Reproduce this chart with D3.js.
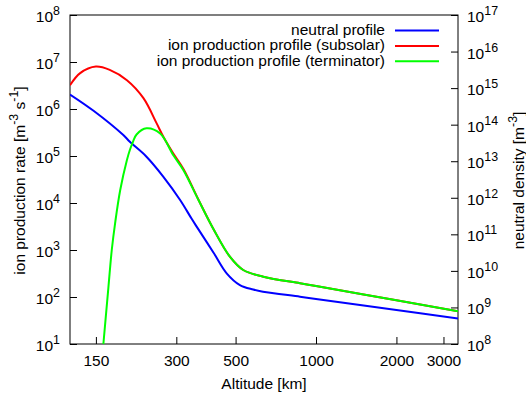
<!DOCTYPE html>
<html>
<head>
<meta charset="utf-8">
<script src="https://cdn.jsdelivr.net/npm/d3@7"></script>
<style>
  html, body { margin: 0; padding: 0; background: #fff; }
  svg { display: block; font-family: "Liberation Sans", Arial, Helvetica, sans-serif; }
</style>
</head>
<body>
<svg id="chart" width="526" height="393"></svg>
<script>
// Neutral density profile [m^-3] vs altitude [km] (right axis)
const neutralAlt = [120, 147, 190, 201, 232, 268, 310, 342, 358, 413, 463, 519, 582, 633, 871, 1000, 2000, 3400];
const neutralDensity = [6.7e14, 2.4e14, 5.2e13, 3.4e13, 1.33e13, 3.8e12, 8.7e11, 2.7e11, 1.6e11, 3.2e10, 8.6e9, 4.1e9, 3.1e9, 2.7e9, 1.97e9, 1.71e9, 8.5e8, 5.0e8];

// Ion production rate [m^-3 s^-1], subsolar (left axis)
const subsolarAlt = [120, 131, 150, 169, 196, 226, 253, 268, 292, 319, 362, 413, 476, 534, 635, 871, 1000, 2000, 3400];
const subsolarRate = [3.2e6, 5.8e6, 8.0e6, 6.8e6, 4.1e6, 1.7e6, 5.0e5, 2.6e5, 1.14e5, 5.3e4, 1.22e4, 2.8e3, 720, 375, 270, 196, 171, 85, 50];

// Ion production rate [m^-3 s^-1], terminator (left axis)
const terminatorAlt = [157, 160, 167, 172, 177, 185, 196, 201, 207, 213, 232, 261, 292, 319, 362, 413, 476, 534, 635, 871, 1000, 2000, 3400];
const terminatorRate = [3, 10, 155, 1000, 3.7e3, 1.89e4, 8.2e4, 1.34e5, 2.08e5, 2.87e5, 3.88e5, 3.0e5, 1.05e5, 5.0e4, 1.2e4, 2.8e3, 720, 375, 270, 196, 171, 85, 50];

// Axis ranges and ticks
const altitudeRange = [120, 3400];
const rateRange = [1e1, 1e8];
const densityRange = [1e8, 1e17];
const altitudeTicks = [150, 300, 500, 1000, 2000, 3000];
const rateTickExponents = [1, 2, 3, 4, 5, 6, 7, 8];
const densityTickExponents = [8, 9, 10, 11, 12, 13, 14, 15, 16, 17];

const seriesLabels = ["neutral profile", "ion production profile (subsolar)", "ion production profile (terminator)"];
const seriesColors = ["#0000ff", "#ff0000", "#00ff00"];

const svg = d3.select("#chart");
const plot = { left: 70, top: 15, right: 458, bottom: 344 };
const FONT = 15.5, SUP = 12.4, RAISE = 7;

const x = d3.scaleLog().domain(altitudeRange).range([plot.left, plot.right]);
const yRate = d3.scaleLog().domain(rateRange).range([plot.bottom, plot.top]);
const yDens = d3.scaleLog().domain(densityRange).range([plot.bottom, plot.top]);

// write "10" with a raised exponent into a text element
function powerLabel(textSel, exp) {
  textSel.text(null);
  textSel.append("tspan").text("10");
  textSel.append("tspan").attr("dy", -RAISE).attr("font-size", SUP).text(exp);
}

// shared axis styling: inherit the page font, black ticks, no domain path
function styleAxis(g) {
  g.attr("font-family", null).attr("font-size", FONT);
  g.select(".domain").remove();
  g.selectAll(".tick line").attr("stroke", "#000");
  g.selectAll(".tick text").attr("dy", null).attr("fill", "#000");
}

// frame
svg.append("rect")
  .attr("x", plot.left).attr("y", plot.top)
  .attr("width", plot.right - plot.left).attr("height", plot.bottom - plot.top)
  .attr("fill", "none").attr("stroke", "#000").attr("stroke-width", 1);

// bottom axis
const gx = svg.append("g")
  .attr("transform", `translate(0,${plot.bottom})`)
  .call(d3.axisBottom(x).tickValues(altitudeTicks).tickFormat(d3.format("d"))
    .tickSizeInner(-7).tickSizeOuter(0))
  .call(styleAxis);
gx.selectAll(".tick text").attr("y", 22);

// left axis (ion production rate)
svg.append("g")
  .attr("transform", `translate(${plot.left},0)`)
  .call(d3.axisLeft(yRate).tickValues(rateTickExponents.map(e => Math.pow(10, e)))
    .tickSizeInner(-7).tickSizeOuter(0))
  .call(styleAxis)
  .selectAll(".tick text")
  .attr("x", -10).attr("y", 6.5)
  .each(function(d, i) { powerLabel(d3.select(this), rateTickExponents[i]); });

// right axis (neutral density)
svg.append("g")
  .attr("transform", `translate(${plot.right},0)`)
  .call(d3.axisRight(yDens).tickValues(densityTickExponents.map(e => Math.pow(10, e)))
    .tickSizeInner(-7).tickSizeOuter(0))
  .call(styleAxis)
  .selectAll(".tick text")
  .attr("x", 9).attr("y", 6.5)
  .each(function(d, i) { powerLabel(d3.select(this), densityTickExponents[i]); });

// axis titles
svg.append("text")
  .attr("x", (plot.left + plot.right) / 2).attr("y", 388.5)
  .attr("text-anchor", "middle").attr("font-size", FONT)
  .text("Altitude [km]");

const yl = svg.append("text")
  .attr("transform", `translate(25,${(plot.top + plot.bottom) / 2 + 1}) rotate(-90)`)
  .attr("text-anchor", "middle").attr("font-size", FONT);
yl.append("tspan").text("ion production rate [m");
yl.append("tspan").attr("dy", -RAISE).attr("font-size", SUP).text("-3");
yl.append("tspan").attr("dy", RAISE).text(" s");
yl.append("tspan").attr("dy", -RAISE).attr("font-size", SUP).text("-1");
yl.append("tspan").attr("dy", RAISE).text("]");

const yr = svg.append("text")
  .attr("transform", `translate(523.5,${(plot.top + plot.bottom) / 2 + 1}) rotate(-90)`)
  .attr("text-anchor", "middle").attr("font-size", FONT);
yr.append("tspan").text("neutral density [m");
yr.append("tspan").attr("dy", -RAISE).attr("font-size", SUP).text("-3");
yr.append("tspan").attr("dy", RAISE).text("]");

// curves
svg.append("clipPath").attr("id", "plot-clip")
  .append("rect")
  .attr("x", plot.left).attr("y", plot.top)
  .attr("width", plot.right - plot.left).attr("height", plot.bottom - plot.top);

const curves = svg.append("g").attr("clip-path", "url(#plot-clip)");
const series = [
  { alt: neutralAlt, val: neutralDensity, y: yDens },
  { alt: subsolarAlt, val: subsolarRate, y: yRate },
  { alt: terminatorAlt, val: terminatorRate, y: yRate }
];
series.forEach((s, i) => {
  const line = d3.line()
    .x((d, j) => x(s.alt[j]))
    .y((d, j) => s.y(s.val[j]))
    .curve(d3.curveCatmullRom.alpha(0.5));
  curves.append("path")
    .attr("d", line(s.alt))
    .attr("fill", "none")
    .attr("stroke", seriesColors[i])
    .attr("stroke-width", 2)
    .attr("stroke-linejoin", "round");
});

// legend
const legend = svg.append("g");
seriesLabels.forEach((label, i) => {
  const ly = 30.5 + i * 15.4;
  legend.append("text")
    .attr("x", 385).attr("y", ly + 4.5)
    .attr("text-anchor", "end").attr("font-size", FONT)
    .text(label);
  legend.append("line")
    .attr("x1", 395).attr("x2", 439).attr("y1", ly).attr("y2", ly)
    .attr("stroke", seriesColors[i]).attr("stroke-width", 2);
});
</script>
</body>
</html>
